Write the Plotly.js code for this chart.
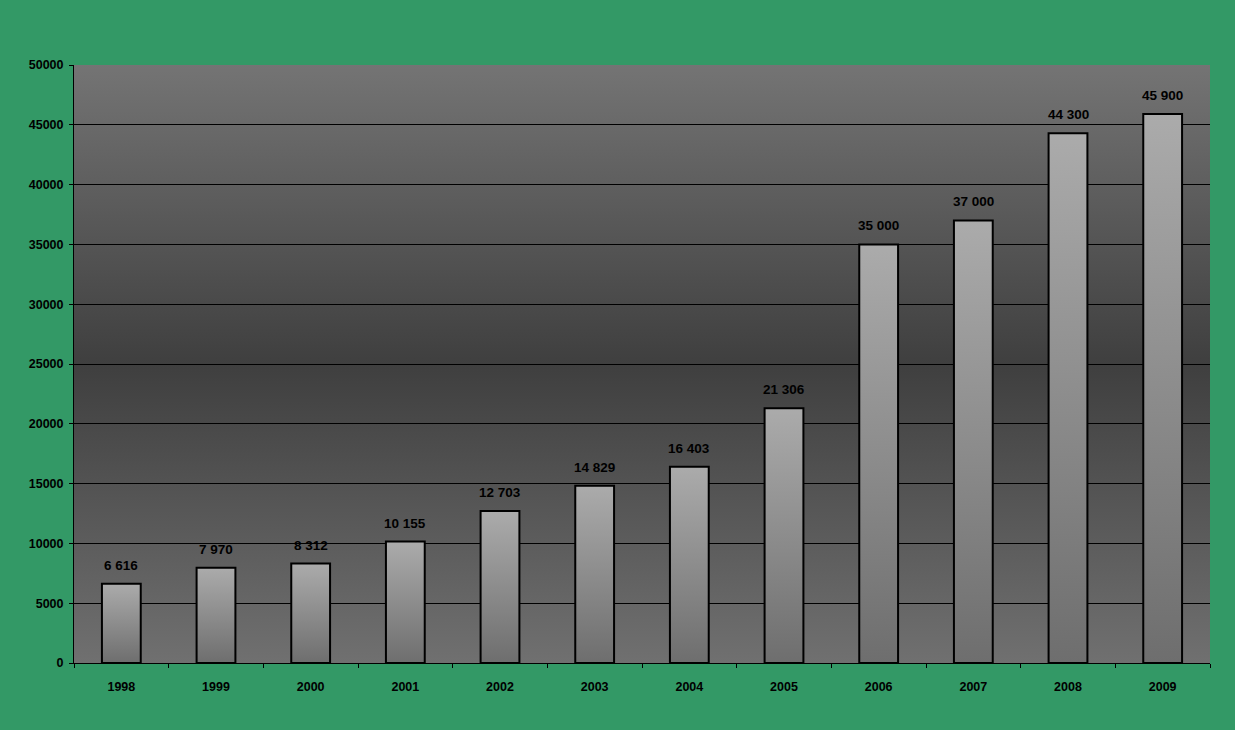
<!DOCTYPE html>
<html>
<head>
<meta charset="utf-8">
<script src="https://cdn.plot.ly/plotly-3.0.1.min.js"></script>
<style>
html,body{margin:0;padding:0;background:#339966;}
#chart{width:1235px;height:730px;}
</style>
</head>
<body>
<div id="chart"></div>
<script>
const years = ['1998','1999','2000','2001','2002','2003','2004','2005','2006','2007','2008','2009'];
const values = [6616, 7970, 8312, 10155, 12703, 14829, 16403, 21306, 35000, 37000, 44300, 45900];

function fmt(v){ return String(v).replace(/\B(?=(\d{3})+(?!\d))/g, ' '); }

const trace = {
  type: 'bar',
  x: years,
  y: values,
  marker: {color: '#8c8c8c', line: {color: '#000000', width: 2}},
  hoverinfo: 'skip'
};

const annotations = years.map((yr, i) => ({
  x: i, y: values[i], xref: 'x', yref: 'y',
  text: fmt(values[i]), showarrow: false,
  yanchor: 'bottom', yshift: 9,
  font: {family: 'Liberation Sans, Arial, sans-serif', size: 13.5, color: '#000', weight: 'bold'}
}));

const layout = {
  width: 1235, height: 730,
  paper_bgcolor: '#339966',
  plot_bgcolor: '#5a5a5a',
  margin: {l: 74, r: 25, t: 65, b: 67},
  bargap: 0.59,
  showlegend: false,
  font: {family: 'Liberation Sans, Arial, sans-serif', size: 12, color: '#000', weight: 'bold'},
  xaxis: {
    type: 'category',
    range: [-0.5, years.length - 0.5],
    showline: true, linecolor: '#000', linewidth: 1,
    ticks: 'outside', ticklen: 4, tickcolor: '#000', tickson: 'boundaries',
    tickfont: {size: 12.5, weight: 'bold', color: '#000'},
    tickangle: 0,
    ticklabelstandoff: 12,
    showgrid: false, zeroline: false
  },
  yaxis: {
    range: [0, 50000], dtick: 5000, tickformat: 'd',
    showline: true, linecolor: '#000', linewidth: 1,
    ticks: 'outside', ticklen: 4, tickcolor: '#000',
    tickfont: {size: 12.5, weight: 'bold', color: '#000'},
    ticklabelstandoff: 3,
    showgrid: true, gridcolor: '#000', gridwidth: 1,
    zeroline: false
  },
  annotations: annotations
};

Plotly.newPlot('chart', [trace], layout, {staticPlot: true}).then(gd => {
  const ns = 'http://www.w3.org/2000/svg';
  const svg = gd.querySelector('svg.main-svg');
  let defs = svg.querySelector('defs');
  if (!defs) { defs = document.createElementNS(ns, 'defs'); svg.insertBefore(defs, svg.firstChild); }
  function grad(id, stops){
    const g = document.createElementNS(ns, 'linearGradient');
    g.setAttribute('id', id);
    g.setAttribute('x1','0'); g.setAttribute('y1','0');
    g.setAttribute('x2','0'); g.setAttribute('y2','1');
    stops.forEach(s => {
      const st = document.createElementNS(ns, 'stop');
      st.setAttribute('offset', s[0]);
      st.setAttribute('stop-color', s[1]);
      g.appendChild(st);
    });
    defs.appendChild(g);
  }
  grad('bgGrad', [['0','#747474'],['0.5','#3f3f3f'],['1','#707070']]);
  grad('barGrad', [['0','#ababab'],['1','#6e6e6e']]);
  const bg = gd.querySelector('.bglayer rect.bg');
  if (bg) bg.style.fill = 'url(#bgGrad)';
  gd.querySelectorAll('.barlayer .point path').forEach(p => { p.style.fill = 'url(#barGrad)'; });
});
</script>
</body>
</html>
